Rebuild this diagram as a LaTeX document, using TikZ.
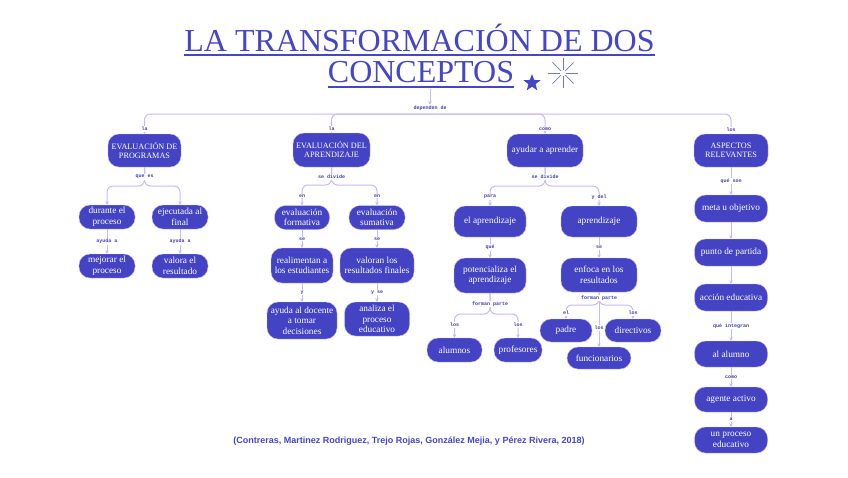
\documentclass[tikz,border=0pt]{standalone}
\usepackage{fontspec}
\setmainfont{Liberation Serif}
\newfontfamily\lblfont{Liberation Mono}
\newfontfamily\citefont{Liberation Sans}
\usetikzlibrary{arrows.meta,shapes.geometric}
\definecolor{nodeblue}{HTML}{4343C3}
\definecolor{titleblue}{HTML}{4545C8}
\definecolor{linec}{HTML}{C8B9FA}
\definecolor{lblblue}{HTML}{3C3CB8}
\begin{document}
\begin{tikzpicture}[x=1pt,y=-1pt,
  box/.style={rectangle, rounded corners=11pt, fill=nodeblue, draw=linec, line width=0.4pt, text=white, align=center, inner sep=1pt, font=\fontsize{9.3}{10.5}\selectfont},
  capbox/.style={box, font=\fontsize{8.2}{9}\selectfont},
  lbl/.style={font=\lblfont\bfseries\fontsize{5}{6}\selectfont, text=lblblue, fill=white, inner sep=0.8pt},
  conn/.style={draw=linec, line width=1pt, -{Stealth[length=3.5pt,width=3.5pt]}},
  branch/.style={conn, rounded corners=6pt},
  plain/.style={draw=linec, line width=1pt},
  ttl/.style={font=\fontsize{32}{36}\selectfont, text=titleblue, anchor=base, inner sep=0pt},
  uline/.style={draw=titleblue, line width=1.6pt}]
\useasboundingbox (0,0) rectangle (848,477);

% title
\node[ttl] (t1) at (419.5,51) {LA TRANSFORMACIÓN DE DOS};
\node[ttl] (t2) at (421,82) {CONCEPTOS};
\draw[uline] ([yshift=-4pt]t1.base west) -- ([yshift=-4pt]t1.base east);
\draw[uline] ([yshift=-5pt]t2.base west) -- ([yshift=-5pt]t2.base east);
\node[star, star points=5, star point ratio=2.4, fill=titleblue, inner sep=0pt, minimum size=18pt] (st) at (532,83) {};
\coordinate (ast) at (563,73);
\foreach \a in {0,45,...,315} {
  \draw[titleblue!75, line width=0.7pt] (ast) ++(\a:3) -- ++(\a:12);
}

% nodes column 1
\node[capbox, minimum width=73pt, minimum height=33pt] (ep) at (144.5,150.5) {EVALUACIÓN DE\\PROGRAMAS};
\node[box, minimum width=56pt, minimum height=24pt] (dp) at (107,217) {durante el\\proceso};
\node[box, minimum width=56pt, minimum height=24pt] (ef) at (180,217) {ejecutada al\\final};
\node[box, minimum width=56pt, minimum height=24pt] (mp) at (107,266) {mejorar el\\proceso};
\node[box, minimum width=56pt, minimum height=24pt] (vr) at (180,266) {valora el\\resultado};

% column 2
\node[capbox, minimum width=77pt, minimum height=34pt] (ea) at (331.5,150) {EVALUACIÓN DEL\\APRENDIZAJE};
\node[box, minimum width=55pt, minimum height=24pt] (efo) at (302,217.5) {evaluación\\formativa};
\node[box, minimum width=56pt, minimum height=24pt] (esu) at (377,217.5) {evaluación\\sumativa};
\node[box, minimum width=62pt, minimum height=35pt] (rel) at (302,265.5) {realimentan a\\los estudiantes};
\node[box, minimum width=74pt, minimum height=35pt] (vrf) at (377,265.5) {valoran los\\resultados finales};
\node[box, minimum width=70pt, minimum height=37pt] (adt) at (302,320.5) {ayuda al docente\\a tomar\\decisiones};
\node[box, minimum width=65pt, minimum height=34pt] (ape) at (377,319) {analiza el\\proceso\\educativo};

% column 3
\node[box, minimum width=76pt, minimum height=33pt] (aa) at (545,150.5) {ayudar a aprender};
\node[box, minimum width=72pt, minimum height=31pt] (eap) at (490,221.5) {el aprendizaje};
\node[box, minimum width=76pt, minimum height=31pt] (apr) at (599,221.5) {aprendizaje};
\node[box, minimum width=72pt, minimum height=35pt] (pot) at (490,275.5) {potencializa el\\aprendizaje};
\node[box, minimum width=76pt, minimum height=34pt] (enf) at (599,275) {enfoca en los\\resultados};
\node[box, minimum width=55pt, minimum height=24pt] (alu) at (454.5,350) {alumnos};
\node[box, minimum width=48pt, minimum height=24pt] (pro) at (518,350) {profesores};
\node[box, minimum width=52pt, minimum height=23pt] (pad) at (566,330.5) {padre};
\node[box, minimum width=56pt, minimum height=23pt] (dir) at (633,330.5) {directivos};
\node[box, minimum width=64pt, minimum height=22pt] (fun) at (599,358) {funcionarios};

% column 4
\node[capbox, minimum width=74pt, minimum height=33pt] (asp) at (731,150.5) {ASPECTOS\\RELEVANTES};
\node[box, minimum width=73pt, minimum height=27pt] (meta) at (731,208.5) {meta u objetivo};
\node[box, minimum width=73pt, minimum height=27pt] (pun) at (731,252.5) {punto de partida};
\node[box, minimum width=73pt, minimum height=27pt] (acc) at (731,297.5) {acción educativa};
\node[box, minimum width=73pt, minimum height=26pt] (alm) at (731,354) {al alumno};
\node[box, minimum width=73pt, minimum height=25pt] (age) at (731,399.5) {agente activo};
\node[box, minimum width=73pt, minimum height=26pt] (upe) at (731,440) {un proceso\\educativo};

% top connectors
\coordinate (tstem) at (430,89);
\coordinate (bar) at (430,114);
\node[lbl] (dep) at (430,108) {dependen de};
\draw[conn] (tstem) -- (dep.north);
\draw[branch] (bar) -| (ep.north);
\draw[branch] (bar) -| (ea.north);
\draw[branch] (bar) -| (aa.north);
\draw[branch] (bar) -| (asp.north);
\node[lbl] at (144.5,129) {la};
\node[lbl] at (331.5,129) {la};
\node[lbl] at (545,129) {como};
\node[lbl] at (731,130) {los};

% column 1 connectors
\draw[branch] (ep.south) -- (ep.south |- 0,186) -| (dp.north);
\draw[branch] (ep.south) -- (ep.south |- 0,186) -| (ef.north);
\node[lbl] at (144.5,177) {que es};
\draw[conn] (dp) -- node[lbl]{ayuda a} (mp);
\draw[conn] (ef) -- node[lbl]{ayuda a} (vr);

% column 2 connectors
\draw[branch] (ea.south) -- (ea.south |- 0,185) -| (efo.north);
\draw[branch] (ea.south) -- (ea.south |- 0,185) -| (esu.north);
\node[lbl] at (331.5,177) {se divide};
\node[lbl] at (302,196) {en};
\node[lbl] at (377,196) {en};
\draw[conn] (efo) -- node[lbl]{se} (rel);
\draw[conn] (esu) -- node[lbl]{se} (vrf);
\draw[conn] (rel) -- node[lbl]{y} (adt);
\draw[conn] (vrf) -- node[lbl]{y se} (ape);

% column 3 connectors
\draw[branch] (aa.south) -- (aa.south |- 0,186) -| (eap.north);
\draw[branch] (aa.south) -- (aa.south |- 0,186) -| (apr.north);
\node[lbl] at (545,177) {se divide};
\node[lbl] at (490,197) {para};
\node[lbl] at (599,197) {y del};
\draw[conn] (eap) -- node[lbl]{qué} (pot);
\draw[conn] (apr) -- node[lbl]{se} (enf);
\draw[branch] (pot.south) -- (pot.south |- 0,314) -| (alu.north);
\draw[branch] (pot.south) -- (pot.south |- 0,314) -| (pro.north);
\node[lbl] at (490,304) {forman parte};
\node[lbl] at (454.5,325) {los};
\node[lbl] at (518,325) {los};
\draw[branch] (enf.south) -- (enf.south |- 0,305) -| (pad.north);
\draw[branch] (enf.south) -- (enf.south |- 0,305) -| (dir.north);
\draw[conn] (enf) -- (fun);
\node[lbl] at (599,298) {forman parte};
\node[lbl] at (566,313) {el};
\node[lbl] at (633,313) {los};
\node[lbl] at (599,328) {los};

% column 4 connectors
\draw[conn] (asp) -- node[lbl]{qué son} (meta);
\draw[conn] (meta) -- (pun);
\draw[conn] (pun) -- (acc);
\draw[conn] (acc) -- node[lbl]{qué integran} (alm);
\draw[conn] (alm) -- node[lbl]{como} (age);
\draw[conn] (age) -- node[lbl]{a} (upe);

% citation
\node[font=\citefont\bfseries\fontsize{9}{10}\selectfont, text=titleblue, inner sep=0pt] (cite) at (409,441) {(Contreras, Martinez Rodriguez, Trejo Rojas, González Mejia, y Pérez Rivera, 2018)};
\end{tikzpicture}
\end{document}
